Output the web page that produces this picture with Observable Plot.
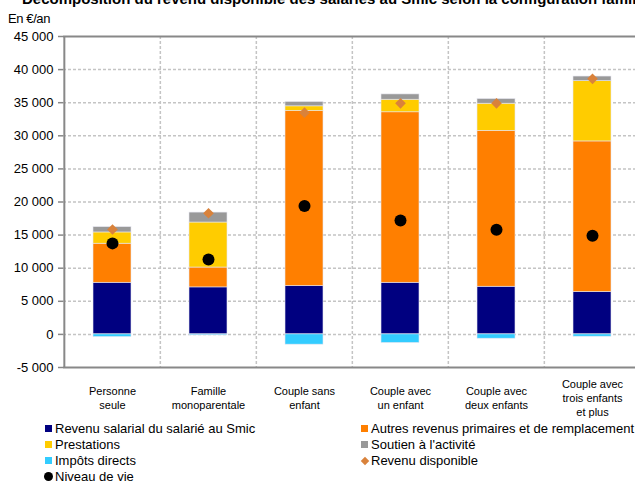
<!DOCTYPE html>
<html>
<head>
<meta charset="utf-8">
<script src="https://cdn.jsdelivr.net/npm/d3@7"></script>
<script src="https://cdn.jsdelivr.net/npm/@observablehq/plot@0.6"></script>
<style>
  html, body { margin: 0; padding: 0; background: #fff; overflow: hidden; }
  #wrap { position: relative; width: 635px; height: 485px; overflow: hidden; background: #fff;
          font-family: "Liberation Sans", Arial, sans-serif; color: #000; }
  #title { position: absolute; left: 22px; top: -10px; font-weight: bold; font-size: 15px; white-space: nowrap; }
  #unit { position: absolute; left: 8px; top: 11px; font-size: 13px; letter-spacing: -0.4px; }
  #chart { position: absolute; left: 0; top: 0; width: 641px; }
  #chart svg { max-width: none !important; }
  .lg { position: absolute; font-size: 13px; white-space: nowrap; height: 16px; line-height: 16px; }
  .sw { position: absolute; width: 7px; height: 7px; top: 4px; }
  .lg span.t { position: absolute; top: 0; }
</style>
</head>
<body>
<div id="wrap">
  <div id="title">Décomposition du revenu disponible des salariés au Smic selon la configuration familiale</div>
  <div id="unit">En €/an</div>
  <div id="chart"></div>
  <div id="legend"></div>
</div>
<script>
const categories = ["Personne seule", "Famille monoparentale", "Couple sans enfant", "Couple avec un enfant", "Couple avec deux enfants", "Couple avec trois enfants et plus"];
const xLabels = ["Personne\nseule", "Famille\nmonoparentale", "Couple sans\nenfant", "Couple avec\nun enfant", "Couple avec\ndeux enfants", "Couple avec\ntrois enfants\net plus"];

const series = ["Revenu salarial du salarié au Smic", "Autres revenus primaires et de remplacement", "Prestations", "Soutien à l'activité", "Impôts directs"];
const seriesColors = ["#000080", "#ff7f00", "#ffcc00", "#999999", "#33ccff"];

const revenuSalarial = [7800, 7100, 7300, 7800, 7200, 6400];
const autresRevenus  = [5900, 3000, 26450, 25750, 23550, 22750];
const prestations    = [1700, 6800, 700, 1900, 4100, 9100];
const soutien        = [800, 1500, 650, 800, 700, 700];
const impots         = [-400, -150, -1550, -1300, -650, -350];
const revenuDisponible = [15850, 18300, 33500, 34900, 34900, 38600];
const niveauDeVie    = [13750, 11300, 19400, 17200, 15800, 14900];

const yTicks = [-5000, 0, 5000, 10000, 15000, 20000, 25000, 30000, 35000, 40000, 45000];
const yTickLabels = ["-5 000", "0", "5 000", "10 000", "15 000", "20 000", "25 000", "30 000", "35 000", "40 000", "45 000"];

const seriesValues = [revenuSalarial, autresRevenus, prestations, soutien, impots];
const long = [];
series.forEach((s, si) => categories.forEach((c, ci) => long.push({series: s, cat: c, value: seriesValues[si][ci]})));
const rd = categories.map((c, i) => ({cat: c, value: revenuDisponible[i]}));
const nv = categories.map((c, i) => ({cat: c, value: niveauDeVie[i]}));
const lab = categories.map((c, i) => ({cat: c, label: xLabels[i]}));

const W = 641, ML = 63, MR = 0;
const step = (W - ML - MR) / categories.length;

const chart = Plot.plot({
  width: W, height: 420,
  marginLeft: ML, marginRight: MR, marginTop: 36, marginBottom: 53,
  style: {fontFamily: "'Liberation Sans', Arial, sans-serif", fontSize: "13px", color: "#000", background: "transparent", overflow: "visible", maxWidth: "none"},
  x: {domain: categories, paddingInner: 0.6, paddingOuter: 0.3, axis: null},
  y: {domain: [-5000, 45000], axis: null},
  color: {domain: series, range: seriesColors},
  marks: [
    Plot.ruleY(yTicks.filter(v => v > -5000 && v < 45000), {stroke: "#c4c4c4", strokeWidth: 1.5, strokeDasharray: "3,2"}),
    Plot.ruleX(categories.slice(1), {dx: -step / 2, stroke: "#c4c4c4", strokeWidth: 1.5, strokeDasharray: "3,2"}),
    Plot.barY(long, {x: "cat", y: "value", fill: "series", z: "series", stroke: "#e6e6f0", strokeWidth: 0.6}),
    Plot.ruleY([45000, -5000], {stroke: "#888", strokeWidth: 2}),
    Plot.ruleX([categories[0]], {dx: -step / 2, stroke: "#888", strokeWidth: 2}),
    Plot.axisY({ticks: yTicks, label: null, tickFormat: d => yTickLabels[yTicks.indexOf(d)], tickSize: 5, tickPadding: 5, stroke: "#888", strokeWidth: 1.5, fontSize: 13, letterSpacing: "-0.4px"}),
    Plot.text(lab, {x: "cat", text: "label", frameAnchor: "bottom", dy: 30, lineAnchor: "middle", lineHeight: 1.25, fontSize: 11, letterSpacing: "-0.3px", fill: "#000"}),
    Plot.dot(rd, {x: "cat", y: "value", symbol: "diamond2", r: 4.8, fill: "#d9823b", stroke: null}),
    Plot.dot(nv, {x: "cat", y: "value", r: 6, fill: "#000", stroke: null})
  ]
});
chart.style.maxWidth = "none";
document.getElementById("chart").appendChild(chart);

// Legend
const legendItems = [
  {label: series[0], kind: "sq", color: seriesColors[0], x: 45, y: 429},
  {label: series[2], kind: "sq", color: seriesColors[2], x: 45, y: 445},
  {label: series[4], kind: "sq", color: seriesColors[4], x: 45, y: 461},
  {label: "Niveau de vie", kind: "dot", color: "#000", x: 45, y: 477},
  {label: series[1], kind: "sq", color: seriesColors[1], x: 361, y: 429},
  {label: series[3], kind: "sq", color: seriesColors[3], x: 361, y: 445},
  {label: "Revenu disponible", kind: "dia", color: "#d9823b", x: 361, y: 461}
];
const lg = document.getElementById("legend");
legendItems.forEach(it => {
  const d = document.createElement("div");
  d.className = "lg";
  d.style.left = it.x + "px";
  d.style.top = (it.y - 8) + "px";
  const sw = document.createElement("div");
  sw.className = "sw";
  sw.style.background = it.color;
  if (it.kind === "dot") { sw.style.width = "9px"; sw.style.height = "9px"; sw.style.borderRadius = "50%"; sw.style.top = "3px"; sw.style.left = "-1px"; }
  if (it.kind === "dia") { sw.style.width = "6px"; sw.style.height = "6px"; sw.style.transform = "rotate(45deg)"; sw.style.top = "5px"; sw.style.left = "1px"; }
  d.appendChild(sw);
  const t = document.createElement("span");
  t.className = "t";
  t.style.left = "10px";
  t.textContent = it.label;
  d.appendChild(t);
  lg.appendChild(d);
});
</script>
</body>
</html>
